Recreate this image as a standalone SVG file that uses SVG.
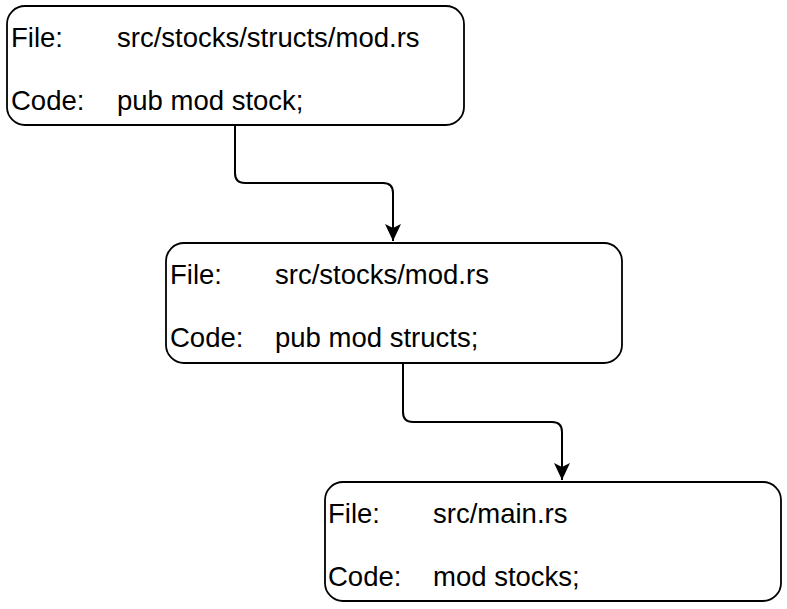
<svg xmlns="http://www.w3.org/2000/svg" width="787" height="609" viewBox="0 0 787 609">
<style>
.box{fill:#fff;stroke:#000;stroke-width:1.8}
.t{font-family:"Liberation Sans",Arial,Helvetica,sans-serif;font-size:27.5px;fill:#000}
.c{fill:none;stroke:#000;stroke-width:2}
</style>
<defs>
<marker id="arr" markerUnits="userSpaceOnUse" markerWidth="20" markerHeight="20" viewBox="0 0 20 20" refX="17" refY="10" orient="auto">
<path d="M0,2 L17,10 L0,18 L4,10 Z" fill="#000"/>
</marker>
</defs>
<rect width="787" height="609" fill="#fff"/>
<g id="connectors">
<path class="c" d="M235,125 V173 Q235,183 245,183 H383 Q393,183 393,193 V241" marker-end="url(#arr)"/>
<path class="c" d="M403,363 V412 Q403,422 413,422 H552 Q562,422 562,432 V480" marker-end="url(#arr)"/>
</g>
<g id="node1">
<rect class="box" x="7" y="6" width="457" height="119" rx="18"/>
<text class="t" x="11" y="47">File:</text>
<text class="t" x="117" y="47">src/stocks/structs/mod.rs</text>
<text class="t" x="11" y="110">Code:</text>
<text class="t" x="117" y="110">pub mod stock;</text>
</g>
<g id="node2">
<rect class="box" x="166" y="243" width="456" height="120" rx="18"/>
<text class="t" x="170" y="284">File:</text>
<text class="t" x="275" y="284">src/stocks/mod.rs</text>
<text class="t" x="170" y="347">Code:</text>
<text class="t" x="275" y="347">pub mod structs;</text>
</g>
<g id="node3">
<rect class="box" x="325" y="482" width="456" height="119" rx="18"/>
<text class="t" x="328" y="523">File:</text>
<text class="t" x="433" y="523">src/main.rs</text>
<text class="t" x="328" y="586">Code:</text>
<text class="t" x="433" y="586">mod stocks;</text>
</g>
</svg>
